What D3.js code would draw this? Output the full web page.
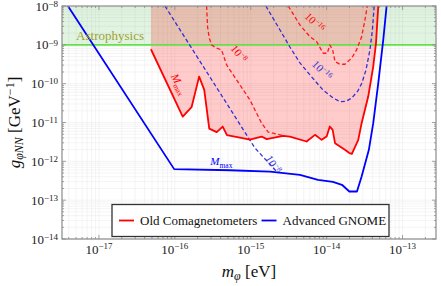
<!DOCTYPE html>
<html>
<head>
<meta charset="utf-8">
<script src="https://cdn.jsdelivr.net/npm/d3@7"></script>
<style>
  body { margin: 0; background: #fff; }
  text { font-family: "Liberation Serif", "DejaVu Serif", serif; }
</style>
</head>
<body>
<div id="chart"></div>
<script>
// axis ticks
var xTicks = [1e-17, 1e-16, 1e-15, 1e-14, 1e-13];
var yTicks = [1e-8, 1e-9, 1e-10, 1e-11, 1e-12, 1e-13, 1e-14];

// astrophysics bound
var astroLimit = 1e-9;

// Advanced GNOME, M_max (solid)
var gnomeMass = [3.9e-18, 9.8e-17, 5.3e-16, 1.79e-15, 4.45e-15, 7.7e-15, 1.21e-14, 1.59e-14, 1.99e-14, 2.51e-14, 2.89e-14, 3.6e-14, 4.11e-14, 4.79e-14, 5.57e-14, 6.17e-14];
var gnomeCoup = [1e-8, 6.3e-13, 5.9e-13, 5.4e-13, 4.5e-13, 3.35e-13, 2.97e-13, 2.49e-13, 1.67e-13, 1.67e-13, 4.07e-13, 1.98e-12, 9.6e-12, 1.03e-10, 1.34e-9, 1e-8];

// Advanced GNOME, 10^-8 (dashed)
var gnome8Mass = [7.4e-17, 1.13e-15, 2.21e-15];
var gnome8Coup = [1e-8, 2.23e-12, 5.37e-13];

// Advanced GNOME, 10^-16 (dashed)
var gnome16Mass = [1.58e-15, 2.43e-15, 3.28e-15, 4.45e-15, 6.03e-15, 8.93e-15, 1.21e-14, 1.5e-14, 1.79e-14, 2.15e-14, 2.58e-14, 2.92e-14, 3.3e-14, 3.72e-14, 4.01e-14, 4.23e-14];
var gnome16Coup = [1e-8, 2.41e-9, 8.8e-10, 3.42e-10, 1.68e-10, 6.9e-11, 4.3e-11, 3.46e-11, 3.5e-11, 4.3e-11, 6.5e-11, 1.05e-10, 2.26e-10, 7.4e-10, 2.41e-9, 1e-8];

// Old Comagnetometers, M_max (solid)
var comagMass = [4.84e-17, 1.27e-16, 1.66e-16, 2.09e-16, 2.44e-16, 2.84e-16, 3.56e-16, 4.27e-16, 4.86e-16, 7.2e-16, 9.75e-16, 1.39e-15, 1.62e-15, 2.68e-15, 3.28e-15, 5.44e-15, 7.02e-15, 8.59e-15, 1.0e-14, 1.1e-14, 1.2e-14, 1.29e-14, 1.5e-14, 1.74e-14, 1.99e-14, 2.15e-14, 2.61e-14, 2.89e-14, 3.53e-14, 4.11e-14, 4.47e-14, 4.79e-14];
var comagCoup = [7.7e-10, 1.42e-11, 2.48e-11, 1.52e-10, 6.92e-11, 6.98e-12, 5.65e-12, 7.87e-12, 4.72e-12, 4.1e-12, 3.64e-12, 4.35e-12, 3.73e-12, 4.53e-12, 4.35e-12, 3.24e-12, 4.81e-12, 3.57e-12, 4.35e-12, 7.87e-12, 6.47e-12, 2.94e-12, 2.41e-12, 1.98e-12, 1.63e-12, 1.56e-12, 3.57e-12, 9.6e-12, 4.65e-11, 2.75e-10, 1.1e-9, 1e-8];

// Old Comagnetometers, 10^-8 (dashed)
var comag8Mass = [2.62e-16, 2.7e-16, 2.84e-16, 3.05e-16, 3.56e-16, 4.13e-16, 4.81e-16, 9.75e-16, 1.39e-15, 1.7e-15, 2.68e-15];
var comag8Coup = [1e-8, 2.88e-9, 1.5e-9, 9.9e-10, 8.2e-10, 7.4e-10, 3.04e-10, 3.82e-11, 9.6e-12, 5.65e-12, 4.6e-12];

// Old Comagnetometers, 10^-16 (dashed)
var comag16Mass = [3.12e-15, 4.45e-15, 6.03e-15, 7.38e-15, 9.0e-15, 1.02e-14, 1.1e-14, 1.2e-14, 1.29e-14, 1.5e-14, 1.74e-14, 2.13e-14, 2.48e-14, 2.89e-14, 3.2e-14, 3.43e-14];
var comag16Coup = [1e-8, 3.24e-9, 1.62e-9, 1.21e-9, 6.07e-10, 6.07e-10, 9.93e-10, 7.38e-10, 3.69e-10, 3.16e-10, 3.16e-10, 4.52e-10, 7.4e-10, 1.62e-9, 4.36e-9, 1e-8];

var legendNames = ["Old Comagnetometers", "Advanced GNOME"];
var legendColors = ["#ff0000", "#0000ff"];

var W = 441, H = 286;
var margin = {top: 6, right: 5, bottom: 47, left: 62};
var width = W - margin.left - margin.right;
var height = H - margin.top - margin.bottom;

var svg = d3.select("#chart").append("svg")
    .attr("width", W)
    .attr("height", H);

var g = svg.append("g")
    .attr("transform", "translate(" + margin.left + "," + margin.top + ")");

var x = d3.scaleLog().domain([3.26e-18, 2.76e-13]).range([0, width]);
var y = d3.scaleLog().domain([1e-14, 1e-8]).range([height, 0]);

function zip(ms, cs) {
    return ms.map(function(m, i) { return [m, cs[i]]; });
}

var defs = svg.append("defs");
defs.append("clipPath").attr("id", "clip")
    .append("rect").attr("width", width).attr("height", height);

// minor tick values
var xMinor = [], yMinor = [];
for (var e = -18; e <= -13; e++) {
    for (var k = 1; k < 10; k++) {
        var v = k * Math.pow(10, e);
        if (v >= x.domain()[0] && v <= x.domain()[1]) xMinor.push(v);
    }
}
for (var e2 = -14; e2 <= -9; e2++) {
    for (var k2 = 1; k2 < 10; k2++) {
        yMinor.push(k2 * Math.pow(10, e2));
    }
}

// grid
var grid = g.append("g");
grid.selectAll(".gx").data(xMinor).enter().append("line")
    .attr("x1", function(d) { return x(d); }).attr("x2", function(d) { return x(d); })
    .attr("y1", 0).attr("y2", height)
    .style("stroke", "#ededed").style("stroke-width", 0.6);
grid.selectAll(".gy").data(yMinor).enter().append("line")
    .attr("y1", function(d) { return y(d); }).attr("y2", function(d) { return y(d); })
    .attr("x1", 0).attr("x2", width)
    .style("stroke", "#ededed").style("stroke-width", 0.6);

var plot = g.append("g").attr("clip-path", "url(#clip)");

// astrophysics band
plot.append("rect")
    .attr("x", 0).attr("y", y(1e-8))
    .attr("width", width).attr("height", y(astroLimit) - y(1e-8))
    .style("fill", "rgba(40,180,40,0.14)");

// comagnetometer excluded region
var area = zip(comagMass, comagCoup);
area.unshift([comagMass[0], 1e-8]);
var line = d3.line().x(function(d) { return x(d[0]); }).y(function(d) { return y(d[1]); });

plot.append("path")
    .attr("d", line(area) + "Z")
    .style("fill", "rgba(255,20,20,0.22)")
    .style("stroke", "none");

plot.append("line")
    .attr("x1", 0).attr("x2", width)
    .attr("y1", y(astroLimit)).attr("y2", y(astroLimit))
    .style("stroke", "#66e04a").style("stroke-width", 1.6);

function drawCurve(ms, cs, color, dashed, w) {
    plot.append("path")
        .attr("d", line(zip(ms, cs)))
        .style("fill", "none")
        .style("stroke", color)
        .style("stroke-width", w)
        .style("stroke-dasharray", dashed ? "4,2.5" : null)
        .style("stroke-linejoin", "round");
}

drawCurve(comag8Mass, comag8Coup, "#ff1a1a", true, 1.3);
drawCurve(comag16Mass, comag16Coup, "#ff1a1a", true, 1.3);
drawCurve(gnome8Mass, gnome8Coup, "#3030d8", true, 1.3);
drawCurve(gnome16Mass, gnome16Coup, "#3030d8", true, 1.3);
drawCurve(comagMass, comagCoup, "#ff0000", false, 1.8);
drawCurve(gnomeMass, gnomeCoup, "#0000ff", false, 1.8);

// curve labels
function curveLabel(px, py, angle, color, main, sup, isM) {
    var t = g.append("text")
        .attr("transform", "translate(" + px + "," + py + ") rotate(" + angle + ")")
        .attr("text-anchor", "middle")
        .style("fill", color)
        .style("font-size", "11px");
    if (isM) {
        t.append("tspan").style("font-style", "italic").text("M");
        t.append("tspan").attr("dy", 2.5).style("font-size", "7.5px").text(sup);
    } else {
        t.append("tspan").text(main);
        t.append("tspan").attr("dy", -4).style("font-size", "7.5px").text(sup);
    }
}
curveLabel(x(1.03e-16), y(8.75e-11), 62, "#ff0000", "", "max", true);
curveLabel(x(6.38e-16), y(5.18e-10), 52, "#ff0000", "10", "\u22128");
curveLabel(x(6.4e-15), y(3.24e-9), 45, "#ff0000", "10", "\u221216");
curveLabel(x(8.0e-15), y(1.9e-10), 45, "#3030d8", "10", "\u221216");
curveLabel(x(1.8e-15), y(7.4e-13), 58, "#3030d8", "10", "\u22128");
curveLabel(x(4.1e-16), y(8.0e-13), 0, "#0000ff", "", "max", true);

// astrophysics label
g.append("text")
    .attr("x", x(5.0e-18)).attr("y", y(1.3e-9))
    .style("fill", "#a0a030")
    .style("font-size", "13px")
    .text("Astrophysics");

// frame
g.append("rect")
    .attr("width", width).attr("height", height)
    .style("fill", "none").style("stroke", "#8a8a8a").style("stroke-width", 1.2);

// ticks (inside, mirrored)
var tickG = g.append("g").style("stroke", "#8a8a8a").style("stroke-width", 0.8);
xMinor.forEach(function(v) {
    var major = xTicks.indexOf(v) >= 0;
    var len = major ? 4 : 2;
    tickG.append("line").attr("x1", x(v)).attr("x2", x(v)).attr("y1", height).attr("y2", height - len);
    tickG.append("line").attr("x1", x(v)).attr("x2", x(v)).attr("y1", 0).attr("y2", len);
});
yMinor.concat([1e-8]).forEach(function(v) {
    var major = yTicks.indexOf(v) >= 0;
    var len = major ? 4 : 2;
    tickG.append("line").attr("y1", y(v)).attr("y2", y(v)).attr("x1", 0).attr("x2", len);
    tickG.append("line").attr("y1", y(v)).attr("y2", y(v)).attr("x1", width).attr("x2", width - len);
});

// tick labels
function expOf(v) { return Math.round(Math.log10(v)); }
xTicks.forEach(function(v) {
    var t = g.append("text")
        .attr("x", x(v)).attr("y", height + 15)
        .attr("text-anchor", "middle")
        .style("font-size", "13px").style("fill", "#222");
    t.append("tspan").text("10");
    t.append("tspan").attr("dy", -5).style("font-size", "9px").text("\u2212" + (-expOf(v)));
});
yTicks.forEach(function(v) {
    var t = g.append("text")
        .attr("x", -4).attr("y", y(v) + 4.5)
        .attr("text-anchor", "end")
        .style("font-size", "13px").style("fill", "#222");
    t.append("tspan").text("10");
    t.append("tspan").attr("dy", -3.8).style("font-size", "9px").text("\u2212" + (-expOf(v)));
});

// axis titles
var xt = svg.append("text")
    .attr("x", margin.left + width / 2).attr("y", H - 9)
    .attr("text-anchor", "middle")
    .style("font-size", "17px").style("fill", "#111");
xt.append("tspan").style("font-style", "italic").text("m");
xt.append("tspan").attr("dy", 3).style("font-size", "12px").style("font-style", "italic").text("\u03c6");
xt.append("tspan").attr("dy", -3).text(" [eV]");

var yt = svg.append("text")
    .attr("transform", "translate(20," + (margin.top + height / 2) + ") rotate(-90)")
    .attr("text-anchor", "middle")
    .style("font-size", "17px").style("fill", "#111");
yt.append("tspan").style("font-style", "italic").text("g");
yt.append("tspan").attr("dy", 3).style("font-size", "12px").style("font-style", "italic").text("\u03c6NN");
yt.append("tspan").attr("dy", -3).text(" [GeV");
yt.append("tspan").attr("dy", -6).style("font-size", "12px").text("\u22121");
yt.append("tspan").attr("dy", 6).text("]");

// legend
var lg = svg.append("g");
lg.append("rect")
    .attr("x", 112).attr("y", 204.5).attr("width", 277).attr("height", 32)
    .style("fill", "#fff").style("stroke", "#333").style("stroke-width", 1.3);
var lx = [119, 261.5];
legendNames.forEach(function(name, i) {
    lg.append("line")
        .attr("x1", lx[i]).attr("x2", lx[i] + 15)
        .attr("y1", 220.5).attr("y2", 220.5)
        .style("stroke", legendColors[i]).style("stroke-width", 1.8);
    lg.append("text")
        .attr("x", lx[i] + 21).attr("y", 225)
        .style("font-size", "13px").style("fill", "#111")
        .text(name);
});
</script>
</body>
</html>
